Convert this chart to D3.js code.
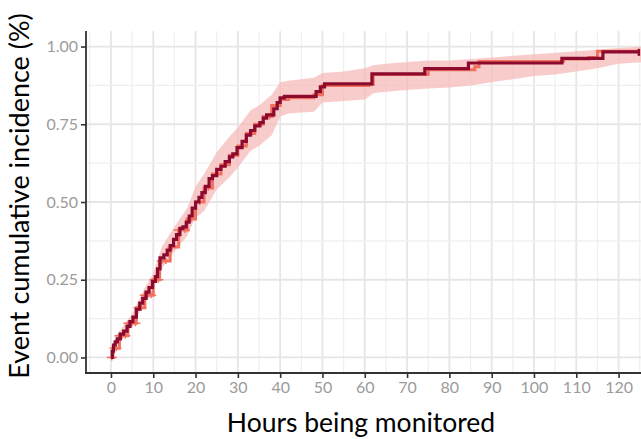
<!DOCTYPE html>
<html>
<head>
  <meta charset="utf-8">
  <style>
    body { margin: 0; background: #fff; }
    svg { display: block; font-family: Lato, "Open Sans", sans-serif; }
  </style>
</head>
<body>
  <svg></svg>
  <script src="https://d3js.org/d3.v7.min.js"></script>
  <script>
    let width = 641, height = 439;

    // main estimate (dark red step line)
    let hours = [0, 0.3, 0.6, 1.0, 1.5, 2.2, 3.0, 3.8, 4.5, 5.2, 6.0, 6.8, 7.5, 8.3, 9.0, 9.8, 10.5, 11.0, 11.6,
      12.5, 13.3, 14.0, 14.8, 15.5, 16.3, 17.0, 17.8, 18.5, 19.2, 20.0, 20.8, 21.5, 22.3, 23.2, 24.0, 25.0,
      26.0, 27.0, 28.0, 28.8, 29.8, 31.0, 32.0, 33.0, 34.0, 35.2, 36.0, 36.8, 38.5, 39.3, 40.0, 41.0,
      48.5, 49.5, 50.5, 61.7, 74.2, 84.5, 106.6, 116.3, 124.8]
    let incidence = [0, 0.02, 0.04, 0.05, 0.06, 0.075, 0.085, 0.10, 0.115, 0.13, 0.155, 0.175, 0.19, 0.21, 0.225,
      0.245, 0.26, 0.285, 0.32, 0.33, 0.345, 0.36, 0.38, 0.395, 0.415, 0.42, 0.435, 0.455, 0.48, 0.50, 0.515,
      0.53, 0.55, 0.575, 0.585, 0.605, 0.615, 0.63, 0.645, 0.655, 0.675, 0.695, 0.715, 0.73, 0.745, 0.755,
      0.77, 0.78, 0.80, 0.82, 0.835, 0.84, 0.855, 0.87, 0.88, 0.912, 0.929, 0.947, 0.962, 0.983, 0.983]

    // second estimate (salmon line, nearly on top of the first)
    let hours2 = [0, 0.5, 2, 4, 6, 8, 10, 11.5, 14, 16, 18, 20, 22, 24, 26, 28, 30, 32, 34, 36, 38, 40, 42,
      48, 50, 61, 62, 73, 75, 86, 87, 105, 107, 113, 115, 124.8]
    let incidence2 = [0, 0.03, 0.07, 0.11, 0.16, 0.2, 0.25, 0.31, 0.355, 0.41, 0.445, 0.5, 0.545, 0.59, 0.62,
      0.65, 0.68, 0.72, 0.75, 0.775, 0.81, 0.83, 0.835, 0.845, 0.875, 0.878, 0.91, 0.91, 0.925, 0.935,
      0.952, 0.952, 0.96, 0.965, 0.985, 0.985]

    // censoring marks on the salmon line
    let censorHours = [0.2, 0.8, 1.3, 2.0, 2.6, 3.4, 4.1, 5.0, 5.8, 6.5, 7.2, 8.0, 8.7, 9.5, 10.3, 11.2, 12.0,
      13.0, 14.5, 16.0, 17.5, 19.0, 21.0, 23.0, 27.0, 31.0, 37.5]

    // confidence band
    let bandHours = [0, 1, 2, 5, 8, 10, 12, 15, 18, 20, 22, 25, 28, 30, 33, 35, 38, 40, 42, 45,
      48, 50, 55, 60, 62, 65, 70, 75, 80, 85, 90, 95, 100, 105, 110, 115, 120, 126]
    let bandLower = [0, 0.035, 0.045, 0.10, 0.175, 0.22, 0.285, 0.34, 0.39, 0.45, 0.47, 0.54, 0.58, 0.61,
      0.665, 0.68, 0.715, 0.775, 0.785, 0.788, 0.79, 0.82, 0.825, 0.83, 0.85, 0.855, 0.86, 0.865, 0.868,
      0.875, 0.885, 0.895, 0.905, 0.91, 0.92, 0.93, 0.945, 0.95]
    let bandUpper = [0.02, 0.065, 0.085, 0.14, 0.225, 0.27, 0.355, 0.42, 0.48, 0.55, 0.59, 0.66, 0.71, 0.74,
      0.795, 0.81, 0.845, 0.885, 0.89, 0.895, 0.90, 0.915, 0.92, 0.93, 0.94, 0.945, 0.95, 0.955, 0.955,
      0.96, 0.965, 0.97, 0.975, 0.98, 0.985, 0.99, 0.995, 1.0]

    let xTicks = [0, 10, 20, 30, 40, 50, 60, 70, 80, 90, 100, 110, 120]
    let yTicks = [0, 0.25, 0.5, 0.75, 1]

    let svg = d3.select("svg")
      .attr("width", width)
      .attr("height", height)

    let panelLeft = 86, panelRight = 641, panelTop = 31, panelBottom = 373

    let x = d3.scaleLinear().domain([-5.9, 125.3]).range([panelLeft, panelRight])
    let y = d3.scaleLinear().domain([-0.05, 1.05]).range([panelBottom, panelTop])

    // grid (major + minor)
    let grid = svg.append("g")
    grid.selectAll(".vx")
      .data(d3.range(-5, 126, 5))
      .enter().append("line")
      .attr("x1", d => x(d)).attr("x2", d => x(d))
      .attr("y1", panelTop).attr("y2", panelBottom)
      .attr("stroke", d => d % 10 === 0 ? "#e6e6e6" : "#efefef")
      .attr("stroke-width", d => d % 10 === 0 ? 1.8 : 1.2)
    grid.selectAll(".hy")
      .data(d3.range(0, 1.01, 0.125))
      .enter().append("line")
      .attr("x1", panelLeft).attr("x2", panelRight)
      .attr("y1", d => y(d)).attr("y2", d => y(d))
      .attr("stroke", (d, i) => i % 2 === 0 ? "#e6e6e6" : "#efefef")
      .attr("stroke-width", (d, i) => i % 2 === 0 ? 1.8 : 1.2)

    let band = bandHours.map((h, i) => ({h: h, lo: bandLower[i], hi: bandUpper[i]}))
    let line1 = hours.map((h, i) => ({h: h, v: incidence[i]}))
    let line2 = hours2.map((h, i) => ({h: h, v: incidence2[i]}))

    svg.append("path")
      .datum(band)
      .attr("d", d3.area()
        .x(d => x(d.h)).y0(d => y(d.lo)).y1(d => y(d.hi)))
      .attr("fill", "#f6b9b9")
      .attr("opacity", 0.72)

    svg.append("path")
      .datum(line2)
      .attr("d", d3.line().curve(d3.curveStepAfter).x(d => x(d.h)).y(d => y(d.v)))
      .attr("fill", "none")
      .attr("stroke", "#f2705f")
      .attr("stroke-width", 3)

    // censor "+" marks, placed on the salmon curve
    let stepValue = h => {
      let i = d3.bisectRight(hours2, h) - 1
      return incidence2[Math.max(0, i)]
    }
    svg.append("g").selectAll("path")
      .data(censorHours)
      .enter().append("path")
      .attr("d", h => {
        let cx = x(h), cy = y(stepValue(h))
        return "M" + (cx - 5) + "," + cy + "H" + (cx + 5) + "M" + cx + "," + (cy - 3) + "V" + (cy + 3)
      })
      .attr("stroke", "#f2705f")
      .attr("stroke-width", 1.4)

    svg.append("path")
      .datum(line1)
      .attr("d", d3.line().curve(d3.curveStepAfter).x(d => x(d.h)).y(d => y(d.v)))
      .attr("fill", "none")
      .attr("stroke", "#8c0a2d")
      .attr("stroke-width", 3.2)

    // end censor mark on the main line
    let last = line1[line1.length - 1]
    svg.append("path")
      .attr("d", "M" + x(last.h) + "," + (y(last.v) - 3) + "V" + (y(last.v) + 4))
      .attr("stroke", "#8c0a2d")
      .attr("stroke-width", 2.5)

    // axes
    let yAxis = svg.append("g")
      .attr("transform", "translate(" + panelLeft + ",0)")
      .call(d3.axisLeft(y).tickValues(yTicks).tickFormat(d3.format(".2f")).tickSize(5).tickPadding(3))
    let xAxis = svg.append("g")
      .attr("transform", "translate(0," + panelBottom + ")")
      .call(d3.axisBottom(x).tickValues(xTicks).tickSize(5).tickPadding(4))

    for (let ax of [yAxis, xAxis]) {
      ax.select(".domain").remove()
      ax.selectAll(".tick line").attr("stroke", "#333").attr("stroke-width", 1.6)
      ax.selectAll(".tick text")
        .attr("fill", "#9b9b9b")
        .style("font-size", "16px")
        .style("font-family", "Lato, sans-serif")
    }

    svg.append("line")
      .attr("x1", panelLeft).attr("x2", panelLeft)
      .attr("y1", panelTop).attr("y2", panelBottom + 1)
      .attr("stroke", "#333").attr("stroke-width", 1.8)
    svg.append("line")
      .attr("x1", panelLeft - 1).attr("x2", panelRight)
      .attr("y1", panelBottom).attr("y2", panelBottom)
      .attr("stroke", "#333").attr("stroke-width", 1.8)

    // titles
    svg.append("text")
      .attr("x", 361).attr("y", 432)
      .attr("text-anchor", "middle")
      .style("font-size", "26.5px")
      .attr("fill", "#000")
      .text("Hours being monitored")

    svg.append("text")
      .attr("transform", "translate(29,196) rotate(-90)")
      .attr("text-anchor", "middle")
      .style("font-size", "27px")
      .attr("fill", "#000")
      .text("Event cumulative incidence (%)")
  </script>
</body>
</html>
